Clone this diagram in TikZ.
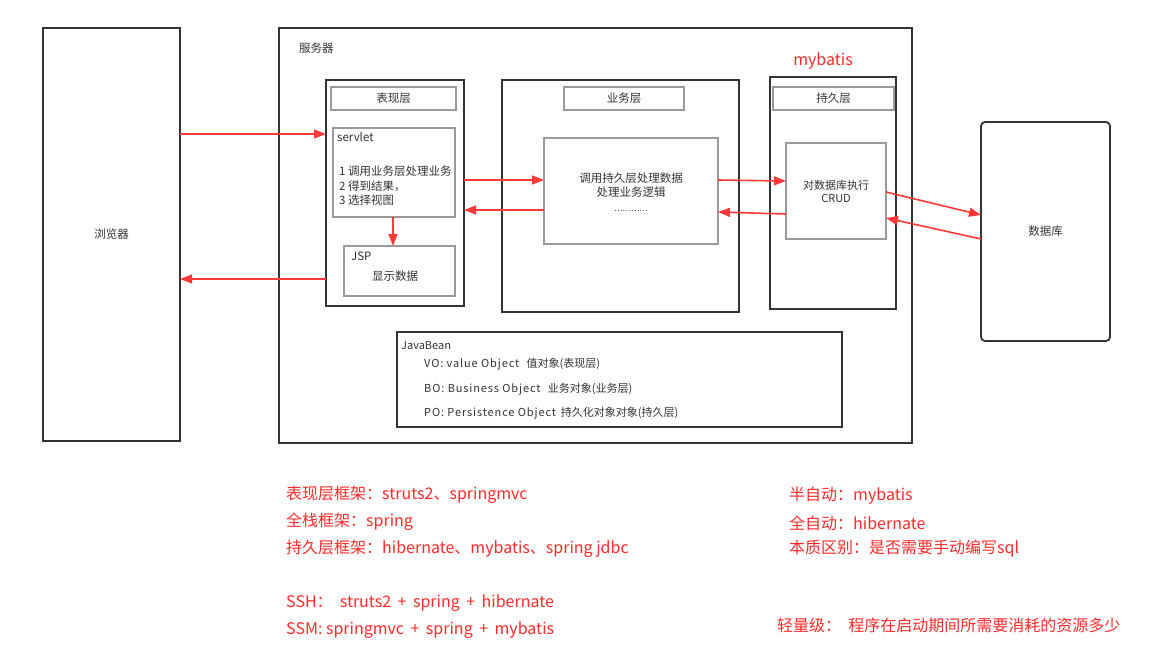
\documentclass[tikz,border=0pt]{standalone}
\usepackage{fontspec}
\setmainfont{Noto Sans CJK SC}
\newfontfamily\latf[LetterSpace=8]{Noto Sans CJK SC}
\usetikzlibrary{arrows.meta}
\definecolor{dk}{HTML}{333333}
\definecolor{gy}{HTML}{9A9A9A}
\definecolor{rd}{HTML}{FF3838}
\definecolor{rt}{HTML}{FF2A2A}
\newcommand{\pls}{\hspace{6.5pt}+\hspace{6.5pt}}
\tikzset{
 outerbox/.style={draw=dk, line width=1.8pt, anchor=north west, inner sep=0pt, outer sep=0pt, text=dk, font=\fontsize{11.5}{14}\selectfont},
 titlebox/.style={draw=gy, line width=1.5pt, anchor=north west, inner sep=0pt, outer sep=0pt, text=dk, font=\fontsize{11.5}{14}\selectfont},
 innerbox/.style={draw=gy, line width=1.5pt, anchor=north west, inner sep=0pt, outer sep=0pt, text=dk, font=\fontsize{11}{13}\selectfont, align=center},
 lbl/.style={text=dk, font=\fontsize{11.5}{14.5}\selectfont, inner sep=0pt},
 beanlbl/.style={text=dk, font=\fontsize{11}{13}\selectfont, inner sep=0pt, anchor=west},
 redtxt/.style={text=rt, font=\fontsize{16}{20}\selectfont, anchor=west, inner sep=0pt},
 rarrow/.style={draw=rd, line width=1.6pt, -{Triangle[length=12pt,width=9pt]}},
}
\begin{document}
\begin{tikzpicture}[x=1pt,y=-1pt]
\useasboundingbox (0,0) rectangle (1155,664);
% main boxes
\node[outerbox, minimum width=137, minimum height=413] (browser) at (43,28) {浏览器};
\node[outerbox, minimum width=633, minimum height=415] (server) at (279,28) {};
\node[lbl, anchor=west] (serverlbl) at (299,48) {服务器};
% presentation layer
\node[outerbox, minimum width=138, minimum height=226] (pres) at (326,80) {};
\node[titlebox, minimum width=125, minimum height=23] (presT) at (331,87) {表现层};
\node[innerbox, minimum width=122, minimum height=89] (servlet) at (333,128) {};
\node[lbl, anchor=west] (servletlbl) at (337,137) {servlet};
\node[lbl, anchor=west, align=left] (servlettxt) at (339,186) {1 调用业务层处理业务\\2 得到结果，\\3 选择视图};
\node[innerbox, minimum width=111, minimum height=50] (jsp) at (344,246) {};
\node[lbl, anchor=west] (jsplbl) at (351,256) {JSP};
\node[lbl] (jsptxt) at (395,276) {显示数据};
% business layer
\node[outerbox, minimum width=237, minimum height=232] (biz) at (502,80) {};
\node[titlebox, minimum width=120, minimum height=23] (bizT) at (564,87) {业务层};
\node[innerbox, minimum width=174, minimum height=106] (bizIn) at (544,138) {};
\node[lbl, align=center] (biztxt) at (631,192) {调用持久层处理数据\\处理业务逻辑\\{\fontsize{8}{10}\selectfont …………}};
% persistence layer
\node[text=rt, font=\fontsize{16}{20}\selectfont, inner sep=0pt] (mybatis) at (823,61) {mybatis};
\node[outerbox, minimum width=126, minimum height=232] (pers) at (770,77) {};
\node[titlebox, minimum width=121, minimum height=23] (persT) at (773,87) {持久层};
\node[innerbox, minimum width=100, minimum height=96] (crud) at (786,143) {对数据库执行\\CRUD};
% database
\node[outerbox, rounded corners=4pt, minimum width=129, minimum height=219] (db) at (981,122) {数据库};
% javabean
\node[outerbox, minimum width=445, minimum height=95] (bean) at (397,332) {};
\node[beanlbl] (beanT) at (401,346) {JavaBean};
\node[beanlbl] (vo) at (424,364) {{\latf VO: value Object}~~~值对象(表现层)};
\node[beanlbl] (bo) at (424,389) {{\latf BO: Business Object}~~~业务对象(业务层)};
\node[beanlbl] (po) at (424,413) {{\latf PO: Persistence Object}~~持久化对象对象(持久层)};
% arrows
\draw[rarrow] (browser.east |- 0,134) -- (pres.west |- 0,134);
\draw[rarrow] (pres.west |- 0,279) -- (browser.east |- 0,279);
\draw[rarrow] (servlet.south -| 393,0) -- (jsp.north -| 393,0);
\draw[rarrow] (pres.east |- 0,180) -- (bizIn.west |- 0,180);
\draw[rarrow] (bizIn.west |- 0,210) -- (pres.east |- 0,210);
\draw[rarrow] (bizIn.east |- 0,180) -- (crud.west |- 0,181);
\draw[rarrow] (crud.west |- 0,214) -- (bizIn.east |- 0,212);
\draw[rarrow] (crud.east |- 0,192) -- (db.west |- 0,215);
\draw[rarrow] (db.west |- 0,239) -- (crud.east |- 0,218);
% notes
\node[redtxt] (n1) at (286,495) {表现层框架：struts2、springmvc};
\node[redtxt] (n2) at (286,522) {全栈框架：spring};
\node[redtxt] (n3) at (286,549) {持久层框架：hibernate、mybatis、spring jdbc};
\node[redtxt] (n4) at (286,603) {SSH：~~struts2\pls spring\pls hibernate};
\node[redtxt] (n5) at (286,630) {SSM: springmvc\pls spring\pls mybatis};
\node[redtxt] (m1) at (789,496) {半自动：mybatis};
\node[redtxt] (m2) at (789,523) {全自动：hibernate};
\node[redtxt] (m3) at (789,549) {本质区别：是否需要手动编写sql};
\node[redtxt] (m4) at (777,625) {轻量级：~~程序在启动期间所需要消耗的资源多少};
\end{tikzpicture}
\end{document}
